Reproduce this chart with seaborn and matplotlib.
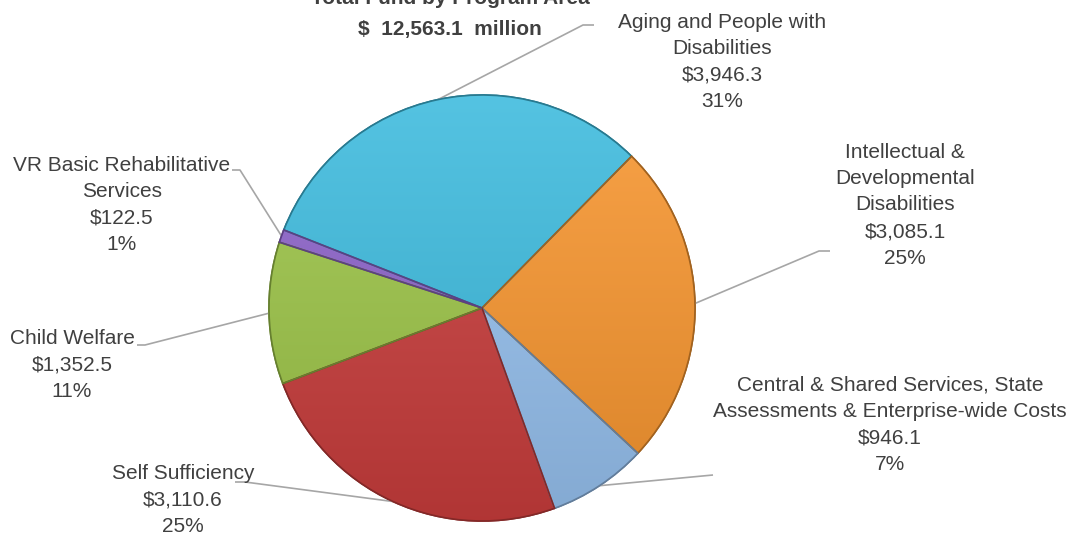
import numpy as np
import matplotlib
matplotlib.use("Agg")
import matplotlib.pyplot as plt
import matplotlib.colors as mcolors
from matplotlib.patches import Wedge
import seaborn as sns

# Program areas, clockwise from the top
programs = [
    "Aging and People with\nDisabilities",
    "Intellectual &\nDevelopmental\nDisabilities",
    "Central & Shared Services, State\nAssessments & Enterprise-wide Costs",
    "Self Sufficiency",
    "Child Welfare",
    "VR Basic Rehabilitative\nServices",
]
funds = [3946.3, 3085.1, 946.1, 3110.6, 1352.5, 122.5]   # $ millions
shares = ["31%", "25%", "7%", "25%", "11%", "1%"]
title_lines = ["Total Fund by Program Area", "$  12,563.1  million"]

colors = ["#3dbbde", "#f8962f", "#96c1ef", "#c93d3c", "#9dc548", "#8d63ca"]

sns.set_theme(style="white")
plt.rcParams["font.family"] = ["Liberation Sans", "DejaVu Sans"]

W, H = 1078, 547
fig = plt.figure(figsize=(W / 100, H / 100), dpi=100)
ax = fig.add_axes([0, 0, 1, 1])

cx, cy, R = 482, H - 308, 213
wedges, _ = ax.pie(
    funds, colors=colors, startangle=158.5, counterclock=False,
    center=(cx, cy), radius=R,
    wedgeprops=dict(linewidth=1.2),
)


def shade(c, f):
    r = np.array(mcolors.to_rgb(c))
    return np.clip(r + f * (1 - r) if f > 0 else r * (1 + f), 0, 1)


# soft top-to-bottom shading inside every slice, with a darker rim
for w, c in zip(wedges, colors):
    w.set_edgecolor(shade(c, -0.35))
    top, bot = shade(c, 0.12), shade(c, -0.12)
    t = np.linspace(0, 1, 256)[:, None, None]
    grad = top[None, None, :] * (1 - t) + bot[None, None, :] * t
    grad = np.repeat(grad, 2, axis=1)
    im = ax.imshow(grad, extent=(cx - R, cx + R, cy - R, cy + R),
                   origin="upper", zorder=w.get_zorder() + 0.1, aspect="auto")
    im.set_clip_path(w)
    ax.add_patch(Wedge((cx, cy), R, w.theta1, w.theta2, fill=False,
                       edgecolor=shade(c, -0.35), linewidth=1.2,
                       zorder=w.get_zorder() + 0.2))

ax.set_xlim(0, W)
ax.set_ylim(0, H)
ax.set_aspect("equal")
ax.axis("off")

text_color = "#404040"
line_color = "#a6a6a6"

# label block centres (px from top-left) and leader elbow / end points
label_pos = [(722, 62), (905, 205), (890, 425), (183, 500), (72, 365), (122, 205)]
leader_pts = [
    [(583, 25), (594, 25)],
    [(819, 251), (830, 251)],
    [(713, 475)],
    [(245, 482), (235, 482)],
    [(145, 345), (137, 345)],
    [(240, 170), (232, 170)],
]

for w, name, val, pct, (lx, ly), pts in zip(wedges, programs, funds, shares,
                                             label_pos, leader_pts):
    mid = np.deg2rad((w.theta1 + w.theta2) / 2)
    ax_, ay_ = cx + R * np.cos(mid), cy + R * np.sin(mid)
    xs = [ax_] + [p[0] for p in pts]
    ys = [ay_] + [H - p[1] for p in pts]
    ax.plot(xs, ys, color=line_color, lw=1.2, zorder=1, solid_capstyle="butt")
    ax.text(lx, H - ly, f"{name}\n${val:,.1f}\n{pct}", ha="center", va="center",
            fontsize=15, color=text_color, linespacing=1.5, zorder=5)

ax.text(450, H + 1, title_lines[0], ha="center", va="center", fontsize=15,
        fontweight="bold", color=text_color, zorder=5)
ax.text(450, H - 30, title_lines[1], ha="center", va="center", fontsize=15,
        fontweight="bold", color=text_color, zorder=5)

fig.savefig("out.png", dpi=100, facecolor="white")
